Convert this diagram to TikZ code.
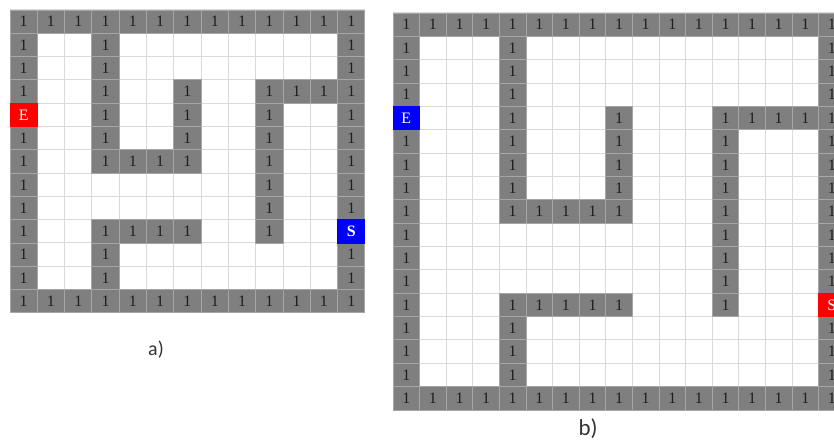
\documentclass[tikz,border=0pt]{standalone}
\usepackage{fontspec}
\setmainfont{Liberation Serif}
\newfontfamily\labelfont{Carlito}
\definecolor{wallgray}{HTML}{7F7F7F}
\definecolor{wallline}{HTML}{A6A6A6}
\definecolor{gridline}{HTML}{DADADA}
\definecolor{digit}{HTML}{1E1E1E}
\definecolor{redcell}{HTML}{FF0000}
\definecolor{bluecell}{HTML}{0000FF}
\tikzset{
  cellbase/.style={inner sep=0pt, outer sep=0pt, anchor=north west, line width=0.9bp,
    font=\fontsize{16}{16}\selectfont},
  cellA/.style={cellbase, minimum width=27.3bp, minimum height=23.3bp},
  cellB/.style={cellbase, minimum width=26.6bp, minimum height=23.35bp},
  wall/.style={fill=wallgray, draw=wallline, text=digit},
  redmark/.style={fill=redcell, draw=redcell, text=white},
  bluemark/.style={fill=bluecell, draw=bluecell, text=white},
  gridln/.style={draw=gridline, line width=1bp},
  caption/.style={font=\labelfont\fontsize{20}{22}\selectfont, text=black!80}
}
\begin{document}
\begin{tikzpicture}[x=1bp, y=-1bp]
  \path[use as bounding box, fill=white] (0,0) rectangle (834,443);
  \clip (0,0) rectangle (834,443);
  % ---- maze a ----
  \foreach \i in {0,...,13} {
    \draw[gridln] ({10+27.3*\i},10) -- ({10+27.3*\i},313);
    \draw[gridln] (10,{10+23.3*\i}) -- (365,{10+23.3*\i});
  }
  \foreach \r/\cols in {0/{0,1,...,12}, 1/{0,3,12}, 2/{0,3,12}, 3/{0,3,6,9,10,11,12},
      4/{3,6,9,12}, 5/{0,3,6,9,12}, 6/{0,3,4,5,6,9,12}, 7/{0,9,12}, 8/{0,9,12},
      9/{0,3,4,5,6,9}, 10/{0,3,12}, 11/{0,3,12}, 12/{0,1,...,12}} {
    \foreach \c in \cols {
      \node[cellA, wall] (a-\r-\c) at ({10+27.3*\c},{10+23.3*\r}) {1};
    }
  }
  \node[cellA, redmark] (a-E) at (10,{10+23.3*4}) {E};
  \node[cellA, bluemark] (a-S) at ({10+27.3*12},{10+23.3*9}) {\bfseries S};
  \node[caption] (labA) at (156,350) {a)};
  % ---- maze b ----
  \foreach \i in {0,...,17} {
    \draw[gridln] ({393+26.6*\i},13) -- ({393+26.6*\i},410);
    \draw[gridln] (393,{13+23.35*\i}) -- (845,{13+23.35*\i});
  }
  \foreach \r/\cols in {0/{0,1,...,16}, 1/{0,4,16}, 2/{0,4,16}, 3/{0,4,16},
      4/{4,8,12,13,14,15,16}, 5/{0,4,8,12,16}, 6/{0,4,8,12,16}, 7/{0,4,8,12,16},
      8/{0,4,5,6,7,8,12,16}, 9/{0,12,16}, 10/{0,12,16}, 11/{0,12,16},
      12/{0,4,5,6,7,8,12}, 13/{0,4,16}, 14/{0,4,16}, 15/{0,4,16}, 16/{0,1,...,16}} {
    \foreach \c in \cols {
      \node[cellB, wall] (b-\r-\c) at ({393+26.6*\c},{13+23.35*\r}) {1};
    }
  }
  \node[cellB, bluemark] (b-E) at (393,{13+23.35*4}) {E};
  \node[cellB, redmark] (b-S) at ({393+26.6*16},{13+23.35*12}) {S};
  \node[caption, font=\labelfont\fontsize{23}{25}\selectfont] (labB) at (588,429) {b)};
\end{tikzpicture}
\end{document}
